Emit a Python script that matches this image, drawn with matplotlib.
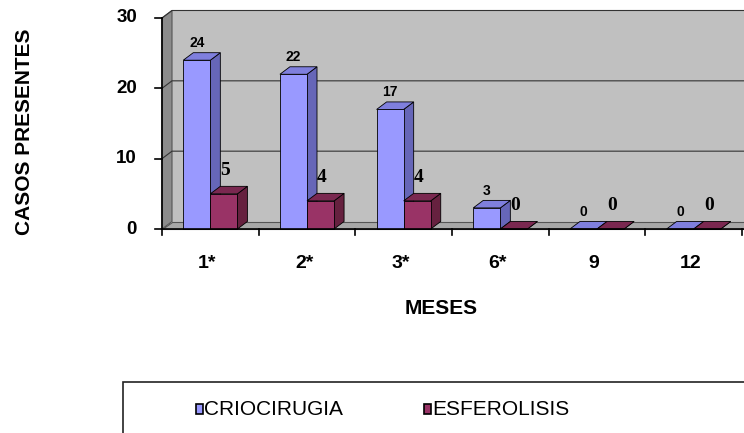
import matplotlib
matplotlib.use("Agg")
import matplotlib.pyplot as plt
from matplotlib.patches import Polygon, Rectangle

categories = ["1*", "2*", "3*", "6*", "9", "12"]
crio = [24, 22, 17, 3, 0, 0]
esfero = [5, 4, 4, 0, 0, 0]
series_names = ["CRIOCIRUGIA", "ESFEROLISIS"]
yticks = [0, 10, 20, 30]

# face colours: front, side, top
blue = ("#9999FF", "#6666B8", "#7F7FDD")
maroon = ("#993366", "#66213F", "#7A2850")

W, H = 744, 433
fig = plt.figure(figsize=(W / 100, H / 100), dpi=100)

# axes placed in pixel terms: x 162..742, y(0)=229, y(30)=18
left, right, y0px, y30px = 162, 742, 229, 18
ax = fig.add_axes([left / W, (H - y0px) / H, (right - left) / W, (y0px - y30px) / H])
ncat = len(categories)
ymax = 30
ax.set_xlim(0, ncat)
ax.set_ylim(0, ymax)
ax.axis("off")

px_x = (right - left) / ncat     # pixels per category
px_y = (y0px - y30px) / ymax     # pixels per unit
dx = 10 / px_x                   # depth offset in data units
dy = 7.5 / px_y

def poly(pts, fc, ec="black", lw=0.6, z=1):
    ax.add_patch(Polygon(pts, closed=True, facecolor=fc, edgecolor=ec,
                         linewidth=lw, zorder=z, clip_on=False))

# back wall, left wall and floor
xr = ncat + dx + 0.5
poly([(dx, dy), (xr, dy), (xr, ymax + dy), (dx, ymax + dy)], "#C0C0C0", ec="none", z=0)
poly([(0, 0), (dx, dy), (dx, ymax + dy), (0, ymax)], "#8C8C8C", ec="#555555", lw=0.8, z=0.5)
poly([(0, 0), (xr, 0), (xr, dy), (dx, dy)], "#A8A8A8", ec="#555555", lw=0.8, z=0.5)

# gridlines along left wall and back wall
for v in yticks[1:]:
    ax.plot([0, dx, xr], [v, v + dy, v + dy], color="#333333", lw=0.8,
            zorder=0.6, clip_on=False)

# axis lines and ticks
ax.plot([0, 0], [0, ymax], color="black", lw=1.2, zorder=5, clip_on=False)
ax.plot([0, xr], [0, 0], color="black", lw=1.2, zorder=5, clip_on=False)
tk = 7 / px_x
for v in yticks:
    ax.plot([-tk, 0], [v, v], color="black", lw=1.2, zorder=5, clip_on=False)
    ax.text(-25 / px_x, v, str(v), ha="right", va="center", fontsize=13.5,
            fontweight="bold", family="Liberation Sans")
tky = 6 / px_y
for i in range(ncat + 1):
    ax.plot([i, i], [0, -tky], color="black", lw=1.2, zorder=5, clip_on=False)
for i, c in enumerate(categories):
    ax.text(i + 0.47, -34 / px_y, c, ha="center", va="center", fontsize=14,
            fontweight="bold", family="Liberation Sans")

# 3D bars
bw = 0.28
gap = 0.22

def bar3d(x, h, cols):
    fc, sc, tc = cols
    z = 2 + x * 0.01
    poly([(x + bw, 0), (x + bw + dx, dy), (x + bw + dx, h + dy), (x + bw, h)], sc, z=z)
    poly([(x, h), (x + dx, h + dy), (x + bw + dx, h + dy), (x + bw, h)], tc, z=z)
    ax.add_patch(Rectangle((x, 0), bw, h, facecolor=fc, edgecolor="black",
                           linewidth=0.6, zorder=z + 0.001, clip_on=False))

for i in range(ncat):
    xb = i + gap
    xm = i + gap + bw
    bar3d(xb, crio[i], blue)
    bar3d(xm, esfero[i], maroon)
    ax.text(xb + bw / 2, crio[i] + dy + 0.4, str(crio[i]), ha="center",
            va="bottom", fontsize=10, fontweight="bold", family="Liberation Sans", zorder=10)
    ax.text(xm + bw / 2 + 0.015, esfero[i] + dy + 1.0, str(esfero[i]), ha="center",
            va="bottom", fontsize=14, fontweight="bold", family="Liberation Serif", zorder=10)

# axis titles
fig.text(25 / W, 1 - 132 / H, "CASOS PRESENTES", rotation=90, ha="center", va="center",
         fontsize=15, fontweight="bold", family="Liberation Sans")
fig.text(441 / W, 1 - 309 / H, "MESES", ha="center", va="center",
         fontsize=15, fontweight="bold", family="Liberation Sans")

# legend box
lax = fig.add_axes([0, 0, 1, 1], facecolor="none")
lax.set_xlim(0, W)
lax.set_ylim(H, 0)
lax.axis("off")
lax.add_patch(Rectangle((123, 382), 640, 80, facecolor="white", edgecolor="#222222",
                        linewidth=1.2))
entries = [(196, series_names[0], blue[0]), (424, series_names[1], maroon[0])]
for x, name, col in entries:
    lax.add_patch(Rectangle((x, 404), 7, 10, facecolor=col, edgecolor="black", linewidth=1.2))
    lax.text(x + 8, 409.5, name, ha="left", va="center", fontsize=15,
             family="Liberation Sans")

fig.savefig("out.png", dpi=100)
